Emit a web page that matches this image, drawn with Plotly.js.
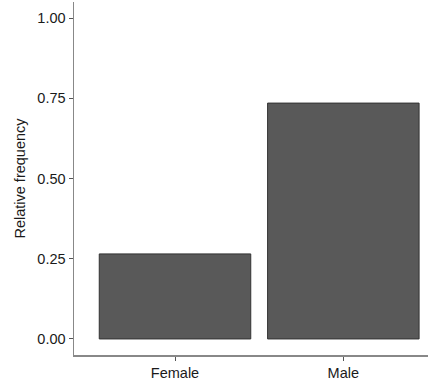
<!DOCTYPE html>
<html>
<head>
<meta charset="utf-8">
<script src="https://cdn.plot.ly/plotly-3.0.1.min.js"></script>
<style>html,body{margin:0;padding:0;background:#fff;}#chart{width:428px;height:381px;}</style>
</head>
<body>
<div id="chart"></div>
<script>
const categories = ["Female", "Male"];
const relFreq = [0.265, 0.735];
const yTickVals = [0, 0.25, 0.5, 0.75, 1.0];
const yTickText = ["0.00", "0.25", "0.50", "0.75", "1.00"];

const trace = {
  type: "bar",
  x: [0, 1],
  y: relFreq,
  width: 0.9,
  marker: {color: "#595959", line: {color: "#333333", width: 1}},
  hoverinfo: "none"
};

const layout = {
  width: 428, height: 381,
  margin: {l: 74, r: 0, t: 2, b: 26},
  paper_bgcolor: "#ffffff", plot_bgcolor: "#ffffff",
  showlegend: false,
  font: {family: "Liberation Sans, Arial, sans-serif", size: 14.5, color: "#1a1a1a"},
  xaxis: {
    range: [-0.6, 1.503],
    tickmode: "array", tickvals: [0, 1], ticktext: categories,
    showgrid: false, zeroline: false,
    showline: true, linecolor: "#888888", linewidth: 1.5,
    ticks: "outside", ticklen: 4, tickcolor: "#555555", tickwidth: 1,
    tickfont: {size: 14.5, color: "#1a1a1a"}
  },
  yaxis: {
    range: [-0.05, 1.05],
    tickmode: "array", tickvals: yTickVals, ticktext: yTickText,
    showgrid: false, zeroline: false,
    showline: true, linecolor: "#888888", linewidth: 1.5,
    ticks: "outside", ticklen: 4, tickcolor: "#555555", tickwidth: 1,
    tickfont: {size: 14.5, color: "#1a1a1a"},
    title: {text: "Relative frequency", font: {size: 14.5, color: "#1a1a1a"}, standoff: 8}
  }
};

Plotly.newPlot("chart", [trace], layout, {staticPlot: true, displayModeBar: false});
</script>
</body>
</html>
